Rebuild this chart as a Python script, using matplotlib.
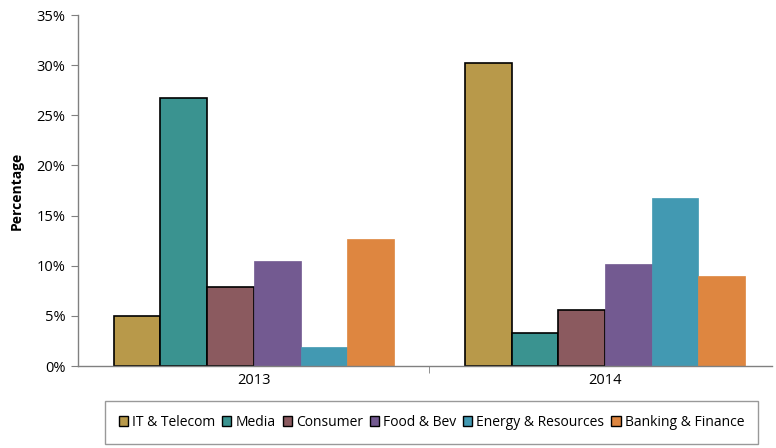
import matplotlib.pyplot as plt
import numpy as np

years = ['2013', '2014']
sectors = ['IT & Telecom', 'Media', 'Consumer', 'Food & Bev',
           'Energy & Resources', 'Banking & Finance']
values = {
    'IT & Telecom': [5.0, 30.2],
    'Media': [26.7, 3.3],
    'Consumer': [7.9, 5.6],
    'Food & Bev': [10.5, 10.2],
    'Energy & Resources': [1.9, 16.8],
    'Banking & Finance': [12.7, 9.0],
}
colors = ['#B8994A', '#3A9390', '#8B5A5F', '#735A91', '#4299B2', '#DE8640']
outlined = [True, True, True, False, False, False]


def main():
    plt.rcParams['font.family'] = ['Open Sans', 'DejaVu Sans']
    fig = plt.figure(figsize=(7.76, 4.48), dpi=100)
    ax = fig.add_axes([0.1005, 0.183, 0.8945, 0.7835])

    x = np.arange(len(years))
    w = 0.133
    for i, name in enumerate(sectors):
        pos = x + (i - 2.5) * w
        if outlined[i]:
            ax.bar(pos, values[name], w, color=colors[i], edgecolor='black',
                   linewidth=1.2, label=name)
        else:
            ax.bar(pos, values[name], w, color=colors[i], edgecolor=colors[i],
                   linewidth=0.5, label=name)

    ax.set_xlim(-0.501, 1.476)
    ax.set_ylim(0, 35)
    ax.set_yticks(range(0, 36, 5))
    ax.set_yticklabels([f'{t}%' for t in range(0, 36, 5)], fontsize=10.5)
    ax.set_xticks(x)
    ax.set_xticklabels(years, fontsize=10.5)
    ax.set_xticks([0.5], minor=True)
    ax.tick_params(axis='x', which='major', length=0, pad=5)
    ax.tick_params(axis='x', which='minor', length=5, color='#808080',
                   direction='out')
    ax.tick_params(axis='y', length=5, color='#808080', direction='out',
                   pad=4)
    ax.set_ylabel('Percentage', fontsize=10, fontweight='bold', labelpad=9)

    for side in ['top', 'right']:
        ax.spines[side].set_visible(False)
    for side in ['left', 'bottom']:
        ax.spines[side].set_color('#808080')
        ax.spines[side].set_linewidth(1.0)

    leg = fig.legend(loc='center', ncol=6, mode='expand',
                     bbox_to_anchor=(98 / 776, 3 / 448, 667 / 776, 45 / 448),
                     fontsize=10, frameon=True, fancybox=False,
                     handlelength=0.65, handleheight=0.65, handletextpad=0.3,
                     columnspacing=1.0, borderpad=1.0)
    leg.get_frame().set_edgecolor('#808080')
    leg.get_frame().set_linewidth(1.0)
    for h in leg.legend_handles:
        h.set_edgecolor('black')
        h.set_linewidth(1.0)

    fig.savefig('out.png', dpi=100)


if __name__ == "__main__":
    main()
